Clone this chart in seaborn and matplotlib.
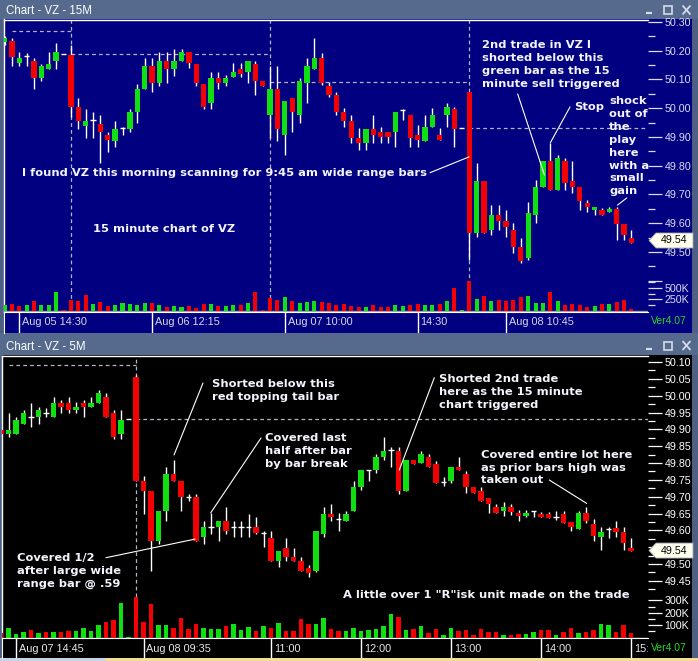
import numpy as np
import pandas as pd
import matplotlib
matplotlib.use("Agg")
import matplotlib.pyplot as plt
from matplotlib.patches import Rectangle, Polygon
import seaborn as sns

# ---------------- data : 15 minute chart ----------------
top_open = [50.230, 50.234, 50.159, 50.182, 50.163, 50.106, 50.138, 50.166, 50.188, 50.184,
            50.003, 49.938, 49.959, 49.945, 49.907, 49.887, 49.930, 49.928, 49.988, 50.067,
            50.148, 50.087, 50.164, 50.138, 50.166, 50.196, 50.154, 50.084, 50.017, 50.105,
            50.087, 50.108, 50.135, 50.127, 50.154, 50.095, 49.977, 50.067, 49.907, 50.034,
            49.977, 50.087, 50.137, 50.174, 50.077, 50.046, 49.986, 49.956, 49.898, 49.878,
            49.928, 49.919, 49.919, 49.919, 49.994, 49.977, 49.907, 49.887, 49.936, 49.907,
            49.977, 49.996, 49.930, 50.058, 49.567, 49.747, 49.577, 49.629, 49.609, 49.577,
            49.516, 49.478, 49.629, 49.727, 49.817, 49.716, 49.817, 49.747, 49.727, 49.672,
            49.646, 49.646, 49.640, 49.650, 49.597, 49.550]
top_high = [50.250, 50.243, 50.195, 50.191, 50.175, 50.154, 50.195, 50.226, 50.188, 50.220,
            50.036, 49.996, 49.986, 49.977, 49.919, 49.956, 49.936, 49.996, 50.084, 50.175,
            50.175, 50.195, 50.195, 50.206, 50.206, 50.196, 50.154, 50.084, 50.127, 50.127,
            50.116, 50.156, 50.156, 50.164, 50.164, 50.095, 50.148, 50.148, 50.025, 50.034,
            50.104, 50.174, 50.243, 50.191, 50.092, 50.058, 50.000, 49.977, 49.930, 49.928,
            49.977, 49.936, 49.919, 49.986, 49.996, 49.977, 49.942, 49.977, 50.000, 49.930,
            50.017, 50.003, 49.930, 50.058, 49.808, 49.747, 49.664, 49.664, 49.646, 49.600,
            49.548, 49.675, 49.750, 49.817, 49.878, 49.837, 49.828, 49.817, 49.727, 49.681,
            49.658, 49.652, 49.658, 49.658, 49.597, 49.577]
top_low = [50.220, 50.148, 50.148, 50.148, 50.067, 50.095, 50.138, 50.138, 50.188, 49.971,
           49.928, 49.898, 49.898, 49.808, 49.849, 49.866, 49.907, 49.919, 49.948, 50.067,
           50.058, 50.079, 50.087, 50.112, 50.166, 50.139, 50.079, 49.997, 49.997, 50.067,
           50.079, 50.108, 50.108, 50.087, 50.046, 50.079, 49.895, 49.887, 49.837, 49.919,
           49.948, 50.017, 50.137, 50.080, 50.038, 49.977, 49.936, 49.878, 49.855, 49.855,
           49.878, 49.878, 49.880, 49.866, 49.959, 49.866, 49.866, 49.887, 49.936, 49.890,
           49.936, 49.866, 49.930, 49.472, 49.553, 49.567, 49.559, 49.577, 49.553, 49.496,
           49.461, 49.472, 49.600, 49.727, 49.716, 49.716, 49.716, 49.704, 49.646, 49.640,
           49.629, 49.629, 49.640, 49.542, 49.542, 49.532]
top_close = [50.245, 50.177, 50.175, 50.182, 50.106, 50.147, 50.154, 50.195, 50.188, 50.006,
             49.957, 49.955, 49.959, 49.919, 49.890, 49.928, 49.930, 49.986, 50.067, 50.148,
             50.087, 50.164, 50.138, 50.164, 50.196, 50.156, 50.087, 50.006, 50.105, 50.087,
             50.105, 50.127, 50.119, 50.164, 50.096, 50.079, 50.067, 49.928, 50.025, 49.988,
             50.095, 50.147, 50.174, 50.087, 50.046, 49.988, 49.956, 49.898, 49.878, 49.928,
             49.907, 49.901, 49.900, 49.986, 49.994, 49.898, 49.890, 49.936, 49.977, 49.890,
             50.003, 49.928, 49.930, 49.567, 49.747, 49.567, 49.629, 49.609, 49.588, 49.519,
             49.470, 49.635, 49.727, 49.817, 49.716, 49.828, 49.739, 49.727, 49.679, 49.656,
             49.656, 49.629, 49.650, 49.597, 49.559, 49.532]
top_volume_k = [130, 152, 109, 130, 217, 130, 130, 413, 22, 239,
                217, 348, 152, 196, 109, 130, 174, 152, 130, 174,
                174, 130, 87, 109, 87, 109, 65, 152, 152, 109,
                109, 130, 130, 174, 413, 22, 283, 239, 304, 217,
                174, 196, 217, 196, 174, 130, 152, 109, 87, 87,
                130, 87, 87, 130, 109, 130, 152, 130, 130, 152,
                217, 500, 22, 645, 261, 326, 217, 239, 217, 239,
                304, 326, 174, 174, 413, 217, 130, 152, 130, 87,
                109, 152, 152, 196, 239, 43]
top_day_starts = [9, 36, 63]
top_prev_close = [50.27, 50.19, 50.09, 49.93]
top_prev_start = [1, 9, 36, 63]
top_date_pos = [2, 20, 38, 56, 68]
top_date_labels = ["Aug 05 14:30", "Aug 06 12:15", "Aug 07 10:00", "14:30", "Aug 08 10:45"]
top_price_ticks = [49.40, 49.50, 49.60, 49.70, 49.80, 49.90, 50.00, 50.10, 50.20, 50.30]
top_price_labels = ["", "49.50", "49.60", "49.70", "49.80", "49.90", "50.00", "50.10", "50.20", "50.30"]
top_price_minor = [49.45, 49.55, 49.65, 49.75, 49.85, 49.95, 50.05, 50.15, 50.25]
top_vol_ticks_k = [250, 500]
top_vol_labels = ["250K", "500K"]
top_vol_minor_k = [125, 375, 625]
top_last_price = 49.54

# ---------------- data : 5 minute chart ----------------
bot_open = [49.898, 49.887, 49.887, 49.916, 49.938, 49.938, 49.948, 49.938, 49.977, 49.977,
            49.957, 49.977, 49.967, 49.979, 49.997, 49.948, 49.887, 49.931, 50.055, 49.748,
            49.718, 49.569, 49.658, 49.767, 49.748, 49.698, 49.698, 49.579, 49.611, 49.611,
            49.629, 49.611, 49.611, 49.611, 49.609, 49.591, 49.578, 49.510, 49.549, 49.520,
            49.510, 49.488, 49.479, 49.589, 49.648, 49.634, 49.629, 49.658, 49.730, 49.779,
            49.779, 49.819, 49.839, 49.837, 49.718, 49.809, 49.799, 49.819, 49.797, 49.743,
            49.748, 49.787, 49.767, 49.728, 49.718, 49.695, 49.670, 49.658, 49.668, 49.653,
            49.644, 49.658, 49.648, 49.648, 49.639, 49.648, 49.624, 49.604, 49.651, 49.618,
            49.579, 49.604, 49.606, 49.594, 49.547]
bot_high = [49.898, 49.948, 49.938, 49.957, 49.977, 49.967, 49.962, 49.997, 49.987, 49.995,
            49.982, 49.987, 49.995, 50.017, 50.007, 49.957, 49.957, 49.931, 50.060, 49.760,
            49.718, 49.658, 49.789, 49.809, 49.748, 49.708, 49.708, 49.629, 49.651, 49.629,
            49.668, 49.629, 49.629, 49.649, 49.639, 49.599, 49.599, 49.540, 49.578, 49.549,
            49.520, 49.497, 49.598, 49.670, 49.678, 49.651, 49.658, 49.747, 49.779, 49.779,
            49.827, 49.876, 49.849, 49.847, 49.809, 49.809, 49.837, 49.827, 49.807, 49.757,
            49.787, 49.817, 49.777, 49.728, 49.728, 49.695, 49.678, 49.685, 49.678, 49.660,
            49.660, 49.658, 49.655, 49.655, 49.658, 49.658, 49.624, 49.658, 49.668, 49.634,
            49.609, 49.609, 49.629, 49.609, 49.576]
bot_low = [49.887, 49.878, 49.887, 49.916, 49.908, 49.916, 49.938, 49.938, 49.948, 49.948,
           49.948, 49.938, 49.967, 49.979, 49.938, 49.871, 49.871, 49.931, 49.748, 49.649,
           49.480, 49.559, 49.629, 49.748, 49.658, 49.688, 49.569, 49.559, 49.589, 49.569,
           49.589, 49.579, 49.579, 49.579, 49.589, 49.550, 49.510, 49.490, 49.510, 49.510,
           49.480, 49.461, 49.475, 49.579, 49.629, 49.599, 49.629, 49.658, 49.720, 49.748,
           49.769, 49.809, 49.789, 49.708, 49.718, 49.797, 49.799, 49.789, 49.740, 49.733,
           49.740, 49.779, 49.710, 49.710, 49.688, 49.651, 49.651, 49.644, 49.646, 49.629,
           49.641, 49.639, 49.641, 49.636, 49.631, 49.621, 49.599, 49.604, 49.621, 49.569,
           49.542, 49.576, 49.579, 49.542, 49.540]
bot_close = [49.887, 49.898, 49.928, 49.948, 49.938, 49.957, 49.948, 49.977, 49.967, 49.957,
             49.967, 49.967, 49.977, 50.007, 49.938, 49.878, 49.928, 49.931, 49.748, 49.718,
             49.569, 49.658, 49.767, 49.748, 49.700, 49.698, 49.569, 49.609, 49.611, 49.629,
             49.599, 49.611, 49.611, 49.611, 49.591, 49.591, 49.510, 49.540, 49.520, 49.510,
             49.480, 49.473, 49.598, 49.648, 49.641, 49.634, 49.648, 49.728, 49.779, 49.779,
             49.817, 49.837, 49.839, 49.718, 49.809, 49.797, 49.827, 49.789, 49.740, 49.743,
             49.787, 49.779, 49.730, 49.710, 49.688, 49.678, 49.651, 49.670, 49.655, 49.644,
             49.653, 49.658, 49.641, 49.636, 49.639, 49.621, 49.611, 49.651, 49.629, 49.584,
             49.594, 49.604, 49.596, 49.561, 49.540]
bot_volume_k = [40, 78, 27, 43, 59, 35, 43, 43, 43, 51,
                51, 75, 51, 99, 124, 140, 277, 5, 325, 124,
                269, 99, 99, 75, 156, 67, 108, 75, 67, 67,
                91, 108, 59, 83, 51, 91, 75, 116, 51, 51,
                148, 108, 108, 156, 67, 51, 51, 75, 51, 59,
                67, 91, 188, 164, 59, 67, 91, 35, 67, 19,
                75, 51, 59, 19, 67, 43, 43, 19, 19, 27,
                27, 43, 59, 59, 19, 43, 75, 35, 43, 59,
                108, 99, 43, 99, 35]
bot_day_starts = [18]
bot_prev_close = [50.09, 49.93]
bot_prev_start = [1, 18]
bot_date_pos = [2, 19, 36, 48, 60, 72, 84]
bot_date_labels = ["Aug 07 14:45", "Aug 08 09:35", "11:00", "12:00", "13:00", "14:00", "15:"]
bot_price_ticks = [49.45, 49.50, 49.55, 49.60, 49.65, 49.70, 49.75, 49.80, 49.85, 49.90,
                   49.95, 50.00, 50.05, 50.10]
# 49.55 is hidden under the last-price tag in the original
bot_price_labels = ["49.45", "49.50", "", "49.60", "49.65", "49.70", "49.75", "49.80",
                    "49.85", "49.90", "49.95", "50.00", "50.05", "50.10"]
bot_price_minor = [49.425, 49.475, 49.525, 49.575, 49.625, 49.675, 49.725, 49.775, 49.825,
                   49.875, 49.925, 49.975, 50.025, 50.075]
bot_vol_ticks_k = [100, 200, 300]
bot_vol_labels = ["100K", "200K", "300K"]
bot_vol_minor_k = [50, 150, 250]
bot_last_price = 49.54

# ---------------- style ----------------
sns.set_style("dark")
plt.rcParams["font.family"] = ["Liberation Sans", "DejaVu Sans"]

W, H = 698, 661
FRAME = "#4d6083"
TITLE = "#566a8d"
NAVY = "#000080"
GREEN = "#10e010"
RED = "#f40000"
DASH = "#b4b4c4"
NOTE_FONT = dict(family="DejaVu Sans", fontweight="bold", fontsize=8.25, color="#f4f4ff")

fig = plt.figure(figsize=(W / 100, H / 100), dpi=100)
fig.patch.set_facecolor(FRAME)


def rect(l, t, r, b):
    return [l / W, 1 - b / H, (r - l) / W, (b - t) / H]


bg = fig.add_axes([0, 0, 1, 1], zorder=-10)
bg.set_xlim(0, W); bg.set_ylim(H, 0); bg.axis("off")


def box(ax, l, t, r, b, color, **kw):
    ax.add_patch(Rectangle((l, t), r - l, b - t, facecolor=color, edgecolor="none", **kw))


box(bg, 0, 0, W, 19, TITLE)
box(bg, 0, 333, W, 355, TITLE)
box(bg, 4, 19, 692, 333, NAVY)
box(bg, 2, 355, 692, 658, "black")
box(bg, 0, 658, 105, H, "#c6d3ea")
box(bg, 105, 658, W, H, "#f5dc9a")

ov = fig.add_axes([0, 0, 1, 1], zorder=30)
ov.set_xlim(0, W); ov.set_ylim(H, 0); ov.axis("off"); ov.patch.set_alpha(0)


def style_axes(ax, face="none"):
    ax.set_facecolor(face)
    ax.grid(False)
    for s in ax.spines.values():
        s.set_visible(False)
    ax.set_xlabel(""); ax.set_ylabel("")


def draw_candles(ax, o, h, l, c, width=0.72):
    o, h, l, c = map(np.asarray, (o, h, l, c))
    x = np.arange(len(o))
    ax.vlines(x, l, h, colors="white", lw=1.0, zorder=2)
    up, dn, eq = c > o, c < o, c == o
    ax.bar(x[up], c[up] - o[up], bottom=o[up], width=width, color=GREEN, lw=0, zorder=3)
    ax.bar(x[dn], o[dn] - c[dn], bottom=c[dn], width=width, color=RED, lw=0, zorder=3)
    ax.hlines(o[eq], x[eq] - width / 2, x[eq] + width / 2, colors="white", lw=1.0, zorder=3)


def draw_volume(ax, o, c, vol_k):
    c = np.asarray(c)
    prev = np.r_[o[0], c[:-1]]
    direction = np.where(c >= prev, "up", "down")
    df = pd.DataFrame({"idx": np.arange(len(c)), "vol": np.asarray(vol_k) * 1000.0, "dir": direction})
    sns.barplot(data=df, x="idx", y="vol", hue="dir", palette={"up": GREEN, "down": RED},
                native_scale=True, dodge=False, width=0.55, errorbar=None, legend=False,
                saturation=1, linewidth=0, ax=ax)
    ax.axhline(0, color="#a0a0a8", lw=1.0, zorder=0)


def right_ticks(ax, major, labels, minor, color, size=7.7):
    ax.yaxis.tick_right()
    ax.set_yticks(major)
    ax.set_yticklabels(labels)
    ax.set_yticks(minor, minor=True)
    ax.tick_params(axis="y", which="major", length=10, width=0.9, color=color, labelcolor=color,
                   labelsize=size, pad=2, direction="out", right=True, left=False)
    ax.tick_params(axis="y", which="minor", length=5, width=0.9, color=color, direction="out",
                   right=True, left=False)
    ax.tick_params(axis="x", which="both", bottom=False, top=False, labelbottom=False)


def build_panel(top, price_bottom, vol_top, strip_bottom, left, right, xlim, ylim, vlim,
                o, h, l, c, vol, day_starts, prev_close, prev_start, date_pos, date_labels,
                pt, pl, pm, vt, vl, vm, tick_color, date_color, date_base):
    ax = fig.add_axes(rect(left, top, right, price_bottom))
    style_axes(ax)
    for s in ("top", "left"):
        ax.spines[s].set_visible(True); ax.spines[s].set_color("white"); ax.spines[s].set_linewidth(1.0)
    draw_candles(ax, o, h, l, c)
    for d in day_starts:
        ax.axvline(d, color=DASH, lw=0.9, ls=(0, (3, 2.5)), zorder=1)
    ends = list(prev_start[1:]) + [xlim[1]]
    for p, s0, e0 in zip(prev_close, prev_start, ends):
        ax.hlines(p, s0, e0, colors=DASH, lw=0.9, linestyles=(0, (3, 2.5)), zorder=1)
    ax.set_xlim(*xlim); ax.set_ylim(*ylim)
    right_ticks(ax, pt, pl, pm, tick_color)

    axv = fig.add_axes(rect(left, vol_top, right, price_bottom))
    draw_volume(axv, o, c, vol)
    style_axes(axv)
    axv.set_xlim(*xlim); axv.set_ylim(*vlim)
    right_ticks(axv, [v * 1000 for v in vt], vl, [v * 1000 for v in vm], tick_color)

    axd = fig.add_axes(rect(left, price_bottom, right, strip_bottom))
    style_axes(axd)
    axd.spines["top"].set_visible(True); axd.spines["top"].set_color("white")
    axd.spines["left"].set_visible(True); axd.spines["left"].set_color("white")
    axd.set_xlim(*xlim); axd.set_ylim(0, 1)
    axd.set_xticks([]); axd.set_yticks([])
    axd.vlines(date_pos, 0, 1, colors="white", lw=1.0)
    for p, s in zip(date_pos, date_labels):
        axd.text(p + 0.4, date_base, s, color=date_color, fontsize=7.8, va="baseline", ha="left",
                 clip_on=True)
    return ax


# top panel : px = 4.5 + 7.376 * i ; price = 50.30 - (y - 22) / 287.5
ax_top = build_panel(19.5, 312, 262, 333, 4, 648,
                     ((4 - 4.5) / 7.376, (648 - 4.5) / 7.376),
                     (50.30 - 290 / 287.5, 50.30 + 2.5 / 287.5),
                     (-1 * 500e3 / 23, 49 * 500e3 / 23),
                     top_open, top_high, top_low, top_close, top_volume_k,
                     top_day_starts, top_prev_close, top_prev_start, top_date_pos, top_date_labels,
                     top_price_ticks, top_price_labels, top_price_minor,
                     top_vol_ticks_k, top_vol_labels, top_vol_minor_k,
                     "#dcdcf0", "#d8d8e8", (333 - 324.7) / 21)

# bottom panel : px = 1 + 7.5 * i ; price = 50.10 - (y - 362) / 336.7
ax_bot = build_panel(355.5, 638, 585, 658, 2, 648,
                     ((2 - 1) / 7.5, (648 - 1) / 7.5),
                     (50.10 - 276 / 336.7, 50.10 + 6.5 / 336.7),
                     (-0.5 * 100e3 / 12.4, 52.5 * 100e3 / 12.4),
                     bot_open, bot_high, bot_low, bot_close, bot_volume_k,
                     bot_day_starts, bot_prev_close, bot_prev_start, bot_date_pos, bot_date_labels,
                     bot_price_ticks, bot_price_labels, bot_price_minor,
                     bot_vol_ticks_k, bot_vol_labels, bot_vol_minor_k,
                     "#ffffff", "#e8e8e8", (658 - 651.5) / 20)


# ---------------- chrome ----------------
def title_bar(y_base, text, y_mid):
    ov.text(6.5, y_base, text, color="white", fontsize=8.3, va="baseline", ha="left",
            family="Liberation Sans")
    c = "#d6dbe8"
    ov.plot([646, 652], [y_mid + 3, y_mid + 3], color=c, lw=1.6, solid_capstyle="butt")
    ov.add_patch(Rectangle((664, y_mid - 4), 8, 8, facecolor="none", edgecolor=c, lw=1.2))
    ov.plot([683, 690], [y_mid - 4, y_mid + 4], color=c, lw=1.3)
    ov.plot([683, 690], [y_mid + 4, y_mid - 4], color=c, lw=1.3)


title_bar(13.5, "Chart - VZ - 15M", 10)
title_bar(349.5, "Chart - VZ - 5M", 345.5)

ov.text(651, 324, "Ver4.07", color="#28d828", fontsize=7.5, va="baseline", ha="left")
ov.text(651, 651, "Ver4.07", color="#28d828", fontsize=7.5, va="baseline", ha="left")


def price_tag(ax, price, text):
    yc = H - ax.transData.transform((0, price))[1]
    ov.add_patch(Polygon([(649, yc), (656, yc - 7.5), (693, yc - 7.5), (693, yc + 7.5), (656, yc + 7.5)],
                         closed=True, facecolor="#fffff0", edgecolor="#a8a8a8", lw=0.6))
    ov.text(660.5, yc, text, color="black", fontsize=7.7, va="center", ha="left")


price_tag(ax_top, top_last_price, "49.54")
price_tag(ax_bot, bot_last_price, "49.54")


# ---------------- annotations ----------------
def note(lines, x, y0, dy=12.85):
    for k, s in enumerate(lines):
        ov.text(x, y0 + k * dy, s, va="baseline", ha="left", **NOTE_FONT)


def leader(ax, xy, start):
    ax.annotate("", xy=xy, xycoords="data", xytext=(start[0], H - start[1]),
                textcoords="figure pixels", annotation_clip=False,
                arrowprops=dict(arrowstyle="-", color="white", lw=0.8, shrinkA=0, shrinkB=0))


note(["I found VZ this morning scanning for 9:45 am wide range bars"], 21.7, 176.3)
note(["15 minute chart of VZ"], 92.7, 232)
note(["2nd trade in VZ I", "shorted below this", "green bar as the 15", "minute sell triggered"],
     481.7, 48.3, 12.8)
note(["Stop"], 574.3, 110)
note(["shock", "out of", "the", "play", "here", "with a", "small", "gain"], 609.3, 104.3, 12.86)
leader(ax_top, (63, 49.831), (430, 172.7))
leader(ax_top, (73.2, 49.768), (517.7, 94))
leader(ax_top, (74, 49.88), (570, 107))
leader(ax_top, (83.1, 49.663), (626.7, 198))

note(["Shorted below this", "red topping tail bar"], 212.3, 387.3, 12.7)
note(["Covered last", "half after bar", "by bar break"], 265, 441, 12.85)
note(["Covered 1/2", "after large wide", "range bar @ .59"], 16.7, 560.7, 13)
note(["Shorted 2nd trade", "here as the 15 minute", "chart triggered"], 439.3, 382.3, 12.7)
note(["Covered entire lot here", "as prior bars high was", "taken out"], 480.7, 458.3, 12.5)
note(['A little over 1 "R"isk unit made on the trade'], 342.7, 598.3)
leader(ax_bot, (23.07, 49.824), (203, 383))
leader(ax_bot, (27.96, 49.652), (261, 438))
leader(ax_bot, (25.87, 49.574), (106, 557.7))
leader(ax_bot, (53.1, 49.779), (434.3, 377.7))
leader(ax_bot, (78.09, 49.680), (549.3, 480))

fig.savefig("out.png", dpi=100, facecolor=fig.get_facecolor())
